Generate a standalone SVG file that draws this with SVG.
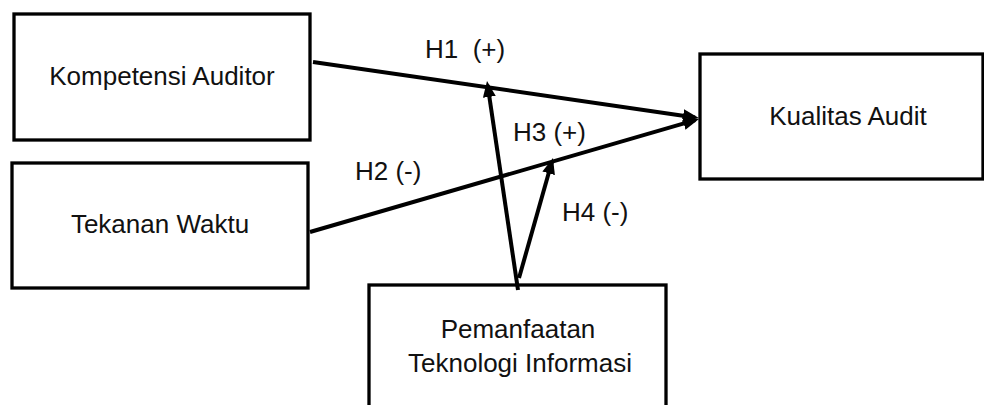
<svg xmlns="http://www.w3.org/2000/svg" width="984" height="405" viewBox="0 0 984 405">
<style>
.box{fill:#fff;stroke:#000;stroke-width:3.3}
.t{font-family:"Liberation Sans",Arial,sans-serif;font-size:26px;fill:#111}
.c{text-anchor:middle}
.ln{fill:none;stroke:#000;stroke-width:4;marker-end:url(#ah)}
</style>
<defs>
<marker id="ah" markerUnits="userSpaceOnUse" markerWidth="18" markerHeight="14" refX="12" refY="7" orient="auto">
<path d="M0,0.5 L16,7 L0,13.5 z" fill="#000"/>
</marker>
</defs>
<rect width="984" height="405" fill="#fff"/>
<g id="n-kompetensi">
<rect class="box" x="14" y="14" width="296" height="126"/>
<text class="t c" x="162" y="85">Kompetensi Auditor</text>
</g>
<g id="n-tekanan">
<rect class="box" x="12" y="163" width="296" height="125"/>
<text class="t c" x="160" y="233">Tekanan Waktu</text>
</g>
<g id="n-kualitas">
<rect class="box" x="700" y="54" width="283" height="125"/>
<text class="t c" x="848" y="125">Kualitas Audit</text>
</g>
<g id="n-pemanfaatan">
<rect class="box" x="369" y="285" width="297" height="140"/>
<text class="t c" x="518" y="338">Pemanfaatan</text>
<text class="t c" x="520" y="372">Teknologi Informasi</text>
</g>
<g id="connectors">
<line class="ln" x1="313" y1="62" x2="695" y2="117.4"/>
<line class="ln" x1="310" y1="232" x2="695.2" y2="120.1"/>
<line class="ln" x1="518" y1="290" x2="487.6" y2="85"/>
<line class="ln" x1="519" y1="278" x2="551.9" y2="161.8"/>
<text class="t" x="425" y="58" xml:space="preserve">H1  (+)</text>
<text class="t" x="355" y="180">H2 (-)</text>
<text class="t" x="513" y="141">H3 (+)</text>
<text class="t" x="562" y="221">H4 (-)</text>
</g>
</svg>
